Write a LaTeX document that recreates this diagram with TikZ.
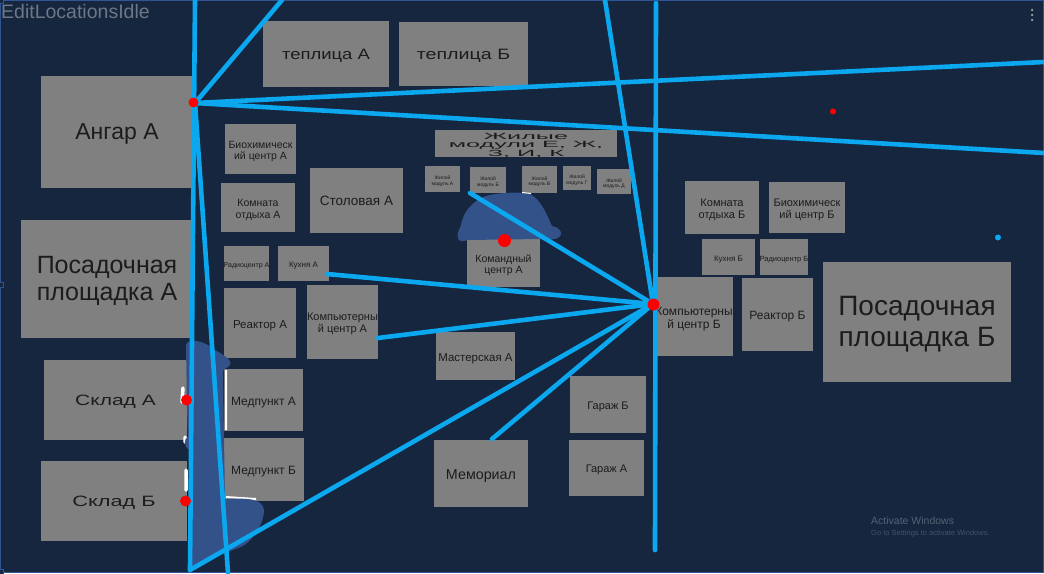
\documentclass[tikz,border=0pt]{standalone}
\usepackage{fontspec}
\setmainfont{Liberation Sans}
\usetikzlibrary{arrows.meta,positioning,fit,calc}
\definecolor{panel}{HTML}{16263F}
\definecolor{roomfill}{HTML}{808080}
\definecolor{roomtext}{HTML}{1C1C1C}
\definecolor{route}{HTML}{0BA8F0}
\definecolor{smear}{HTML}{33528A}
\definecolor{frameline}{HTML}{2F5597}
\definecolor{titletext}{HTML}{6E7785}
\newcommand{\fs}[1]{\fontsize{#1}{#1}\selectfont}
\renewcommand{\arraystretch}{1.1}
\newcommand{\lbl}[2][1]{\raisebox{-2.5pt}[\height][\depth]{\scalebox{#1}[1]{\begin{tabular}{@{}c@{}}#2\end{tabular}}}}
\begin{document}
\begin{tikzpicture}[x=1pt,y=-1pt,
 room/.style 2 args={draw=none,fill=roomfill,text=roomtext,inner sep=0pt,minimum width=#1,minimum height=#2},
 line/.style={route,line width=4.6pt,line cap=round},
 dot/.style={circle,fill=red,inner sep=0pt,minimum size=#1},
 handle/.style={draw=frameline,fill=panel,inner sep=0pt,minimum size=5pt},
 menudot/.style={circle,fill=gray!70,inner sep=0pt,minimum size=2.5pt}]
\useasboundingbox (0,0) rectangle (1044,573);
\fill[panel] (0,0) rectangle (1044,573);
\draw[frameline,line width=1.5pt] (0.5,0.5) rectangle (1043.5,572.5);
\node[handle] (cornerA) at (1,1) {};
\node[handle] (cornerB) at (1,285) {};
\node[handle] (cornerC) at (1,572) {};
\node[anchor=west,inner sep=0pt,text=titletext,font=\fs{19.5}] (title) at (1,12) {EditLocationsIdle};
\node[menudot] (menuA) at (1032,10) {};
\node[menudot] (menuB) at (1032,15) {};
\node[menudot] (menuC) at (1032,20) {};
\node[anchor=west,inner sep=0pt,text=white!27!panel,font=\fs{10.5}] (activate) at (871,521) {Activate Windows};
\node[anchor=west,inner sep=0pt,text=white!20!panel,font=\fs{7.5}] (settings) at (871,533.5) {Go to Settings to activate Windows.};
% left block
\node[room={152}{112},font=\fs{23}] (hangarA) at (117,132) {\lbl{Ангар А}};
\node[room={172}{118},font=\fs{25}] (padA) at (107,279) {\lbl{Посадочная\\площадка А}};
\node[room={143}{80},font=\fs{15}] (storeA) at (115.5,400) {\lbl[1.4]{Склад А}};
\node[room={146}{80},font=\fs{15}] (storeB) at (114,501) {\lbl[1.45]{Склад Б}};
\node[room={126}{66},font=\fs{15}] (greenA) at (326,54) {\lbl[1.23]{теплица А}};
\node[room={129}{64},font=\fs{15}] (greenB) at (463.5,54) {\lbl[1.31]{теплица Б}};
\node[room={71}{50},font=\fs{10.5}] (bioA) at (260.5,149) {\lbl{Биохимическ\\ий центр А}};
\node[room={74}{49},font=\fs{10.5}] (restA) at (258,207.5) {\lbl{Комната\\отдыха А}};
\node[room={93}{65},font=\fs{13.5}] (canteenA) at (356.5,200.5) {\lbl{Столовая А}};
\node[room={45}{35},font=\fs{7}] (radioA) at (246.5,263.5) {\lbl{Радиоцентр А}};
\node[room={51}{35},font=\fs{8}] (kitchenA) at (303.5,263.5) {\lbl{Кухня А}};
\node[room={72}{70},font=\fs{11.5}] (reactorA) at (260,323) {\lbl{Реактор А}};
\node[room={71}{74},font=\fs{11}] (computerA) at (342.5,322) {\lbl{Компьютерны\\й центр А}};
\node[room={79}{62},font=\fs{12}] (medA) at (263.5,400) {\lbl{Медпункт А}};
\node[room={81}{63},font=\fs{12}] (medB) at (263.5,469.5) {\lbl{Медпункт Б}};
% middle block
\renewcommand{\arraystretch}{0.95}
\node[room={182}{25},font=\fs{9}] (living) at (526,143.5) {\lbl[2.8]{Жилые\\модули Е, Ж,\\З, И, К}};
\renewcommand{\arraystretch}{1.1}
\node[room={35}{26},font=\fs{5}] (modA) at (442.5,179) {\lbl{Жилой\\модуль А}};
\node[room={36}{26},font=\fs{5}] (modB) at (488,180) {\lbl{Жилой\\модуль Б}};
\node[room={35}{27},font=\fs{5}] (modC) at (539.5,179.5) {\lbl{Жилой\\модуль В}};
\node[room={28}{24},font=\fs{5}] (modD) at (577,178) {\lbl{Жилой\\модуль Г}};
\node[room={34}{25},font=\fs{5}] (modE) at (614,181.5) {\lbl{Жилой\\модуль Д}};
\node[room={73}{48},font=\fs{10.5}] (commandA) at (503.5,263) {\lbl{Командный\\центр А}};
\node[room={79}{48},font=\fs{11.5}] (workshopA) at (475.5,356) {\lbl{Мастерская А}};
\node[room={94}{67},font=\fs{14.3}] (memorial) at (481,473.5) {\lbl{Мемориал}};
\node[room={76}{57},font=\fs{11}] (garageB) at (608,404.5) {\lbl{Гараж Б}};
\node[room={75}{56},font=\fs{11}] (garageA) at (606.5,468) {\lbl{Гараж А}};
% right block
\node[room={74}{53},font=\fs{11}] (restB) at (722,207.5) {\lbl{Комната\\отдыха Б}};
\node[room={76}{51},font=\fs{11}] (bioB) at (807,207.5) {\lbl{Биохимическ\\ий центр Б}};
\node[room={53}{36},font=\fs{8}] (kitchenB) at (728.5,257) {\lbl{Кухня Б}};
\node[room={46}{36},font=\fs{7.5}] (radioB) at (784,257) {\lbl{Радиоцентр Б}};
\node[room={78}{79},font=\fs{12}] (computerB) at (694,316.5) {\lbl{Компьютерны\\й центр Б}};
\node[room={71}{73},font=\fs{12}] (reactorB) at (777.5,314.5) {\lbl{Реактор Б}};
\node[room={188}{120},font=\fs{28}] (padB) at (917,322) {\lbl{Посадочная\\площадка Б}};
% smears
\draw[white,line width=2pt] (226,370) -- (226,430) (226,497) -- (256,499);
\draw[white,line width=3.5pt,line cap=round] (183,388) -- (182,402) (185,437) -- (185,442) (186,470) -- (186,490);
\fill[smear] (186,345) .. controls (188,337) and (205,341) .. (215,350) .. controls (222,354) and (233,360) .. (230,365)
 .. controls (227,369) and (223,368) .. (223,372) -- (224,438) -- (225,499)
 .. controls (245,498) and (263,498) .. (264,510) .. controls (264,525) and (250,545) .. (238,548)
 -- (192,566) -- (189,450) .. controls (183,445) and (184,440) .. (188,436) -- (187,410) -- (186,345);
\fill[smear] (458,238) .. controls (456,232) and (460,230) .. (461,225) .. controls (464,208) and (478,197) .. (490,195)
 .. controls (505,192) and (522,192) .. (530,194) .. controls (542,200) and (548,218) .. (552,226)
 .. controls (558,227) and (562,231) .. (561,235) .. controls (558,240) and (550,240) .. (540,239) -- (468,240) .. controls (462,242) and (458,241) .. (458,238) -- cycle;
\draw[white,line width=1pt] (522,192.5) -- (531,193.5);
% free ends of the routes
\coordinate (topA) at (195,0);
\coordinate (topB) at (282,0);
\coordinate (topC) at (605,0);
\coordinate (topD) at (656,3);
\coordinate (rightA) at (1044,62);
\coordinate (rightB) at (1044,153);
\coordinate (bottomA) at (190,570);
\coordinate (bottomB) at (228,573);
\coordinate (bottomD) at (655,550);
\coordinate (hubA) at (195,103);
\coordinate (hubB) at (653,304);
\coordinate (modEnd) at (470,193);
\coordinate (kitchenEnd) at (327,274);
\coordinate (computerEnd) at (378,338);
\coordinate (memorialEnd) at (492,439);
\foreach \x in {topB,rightA,rightB,bottomB} \draw[line] (hubA)--(\x);
\draw[line] (topA)--(bottomA);
\foreach \x in {topC,modEnd,kitchenEnd,computerEnd,memorialEnd,bottomA} \draw[line] (hubB)--(\x);
\draw[line] (topD)--(bottomD);
% markers
\node[dot=10pt] (markHangar) at (193.5,102.5) {};
\node[dot=11pt] (markStoreA) at (186.5,400) {};
\node[dot=11pt] (markStoreB) at (185.5,501) {};
\node[dot=13pt] (markCommand) at (504.5,240.5) {};
\node[dot=12pt] (markHub) at (653.5,304.5) {};
\node[dot=6pt] (markFar) at (833,111.5) {};
\node[circle,fill=route,inner sep=0pt,minimum size=6pt] (markBlue) at (998,237.5) {};
\end{tikzpicture}
\end{document}
